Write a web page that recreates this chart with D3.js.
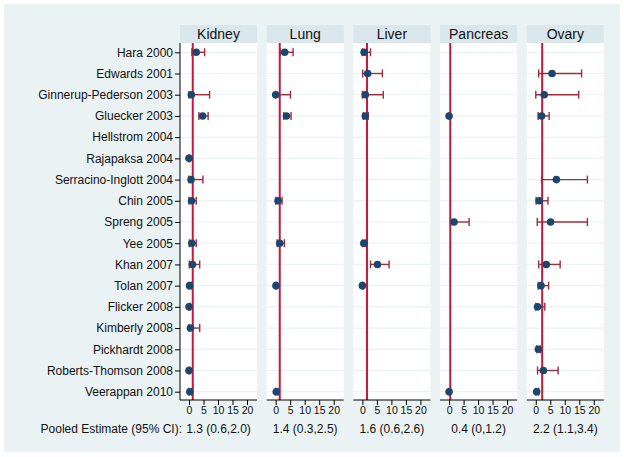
<!DOCTYPE html>
<html><head><meta charset="utf-8">
<script src="https://cdn.jsdelivr.net/npm/d3@7"></script>
<style>body{margin:0;background:#fff}svg{display:block;font-family:"Liberation Sans",Arial,sans-serif}</style>
</head><body><svg id="c" width="624" height="457"></svg>
<script>
const studies = ["Hara 2000","Edwards 2001","Ginnerup-Pederson 2003","Gluecker 2003","Hellstrom 2004","Rajapaksa 2004","Serracino-Inglott 2004","Chin 2005","Spreng 2005","Yee 2005","Khan 2007","Tolan 2007","Flicker 2008","Kimberly 2008","Pickhardt 2008","Roberts-Thomson 2008","Veerappan 2010"];
const organs = ["Kidney","Lung","Liver","Pancreas","Ovary"];
// [estimate, lower, upper] per study, null = not reported
const kidney = [[2.5,1.0,5.4],null,[0.8,0,7.1],[4.7,3.4,6.6],null,[0,0,0.2],[0.7,0,4.8],[0.9,0,2.5],null,[1.0,0.1,2.5],[1.2,0.1,3.7],[0.2,0,0.8],[0,0,0.4],[0.5,0,3.7],null,[0,0,0.3],[0.3,0,1.0]];
const lung = [[3.1,1.6,6.0],null,[0,0,5.1],[3.7,2.8,5.3],null,null,null,[0.8,0,2.2],null,[1.4,0.5,3.0],null,[0.1,0,0.3],null,null,null,null,[0.2,0,0.8]];
const liver = [[0.6,0,2.8],[1.8,0.1,6.9],[1.0,0,7.2],[1.0,0.3,2.0],null,null,null,null,null,[0.5,0,1.0],[5.2,2.8,9.2],[0,0,0.3],null,null,null,null,null];
const pancreas = [null,null,null,[0,0,0.2],null,null,null,null,[1.7,0.5,6.9],null,null,null,null,null,null,null,[0,0,0.2]];
const ovary = [null,[5.6,1.0,15.8],[2.9,0,14.8],[2.0,0.8,4.6],null,null,[7.1,2.0,17.8],[1.2,0.1,4.2],[5.1,0.5,17.8],null,[3.6,1.0,8.4],[1.8,0.8,4.4],[0.6,0,3.1],null,[0.9,0.3,1.6],[2.6,0.6,7.7],[0.3,0,1.0]];
const organData = [kidney, lung, liver, pancreas, ovary];
const pooled = [1.3, 1.4, 1.6, 0.4, 2.2];
const pooledLabels = ["1.3 (0.6,2.0)","1.4 (0.3,2.5)","1.6 (0.6,2.6)","0.4 (0,1.2)","2.2 (1.1,3.4)"];
const xTicks = [0,5,10,15,20];

const svg = d3.select("#c");
const bg = "#eaf2f3";
svg.append("rect").attr("x",4).attr("y",4).attr("width",616).attr("height",448).attr("fill",bg);

const plotTop = 43, plotBottom = 400;
const panelW = 77, firstLeft = 180, step = 86.7;
const y = d3.scalePoint().domain(studies).range([52.3, 391.7]);

organs.forEach((org, k) => {
  const left = firstLeft + k*step;
  const g = svg.append("g").attr("transform", `translate(${left},0)`);
  const x = d3.scaleLinear().domain([-3.1, 23.45]).range([0, panelW]);
  // header strip
  g.append("rect").attr("x",0).attr("y",25).attr("width",panelW).attr("height",18).attr("fill","#d9e6eb");
  g.append("text").attr("x",panelW/2).attr("y",39).attr("text-anchor","middle").attr("font-size",14).attr("fill","#111").text(org);
  // plot area
  g.append("rect").attr("x",0).attr("y",plotTop).attr("width",panelW).attr("height",plotBottom-plotTop).attr("fill","#fff");
  g.selectAll("line.grid").data(studies).join("line").attr("class","grid")
    .attr("x1",0).attr("x2",panelW).attr("y1",d=>y(d)).attr("y2",d=>y(d))
    .attr("stroke",bg).attr("stroke-width",1.2);
  // pooled line
  g.append("line").attr("x1",x(pooled[k])).attr("x2",x(pooled[k])).attr("y1",plotTop).attr("y2",plotBottom)
    .attr("stroke","#c8173a").attr("stroke-width",2);
  const rows = organData[k].map((v,i)=>({s:studies[i], v})).filter(d=>d.v);
  const bars = g.selectAll("g.bar").data(rows).join("g").attr("class","bar");
  bars.append("line").attr("x1",d=>x(d.v[1])).attr("x2",d=>x(d.v[2])).attr("y1",d=>y(d.s)).attr("y2",d=>y(d.s))
    .attr("stroke","#a02c3c").attr("stroke-width",1.4);
  bars.append("line").attr("x1",d=>x(d.v[1])).attr("x2",d=>x(d.v[1])).attr("y1",d=>y(d.s)-4).attr("y2",d=>y(d.s)+4)
    .attr("stroke","#a02c3c").attr("stroke-width",1.4);
  bars.append("line").attr("x1",d=>x(d.v[2])).attr("x2",d=>x(d.v[2])).attr("y1",d=>y(d.s)-4).attr("y2",d=>y(d.s)+4)
    .attr("stroke","#a02c3c").attr("stroke-width",1.4);
  bars.append("circle").attr("cx",d=>x(d.v[0])).attr("cy",d=>y(d.s)).attr("r",3.8).attr("fill","#1a476f");
  // x axis
  const ax = g.append("g").attr("transform",`translate(0,${plotBottom})`)
    .call(d3.axisBottom(x).tickValues(xTicks).tickSize(5).tickPadding(2).tickSizeOuter(0));
  ax.select(".domain").attr("stroke","#000").attr("d",`M0,0H${panelW}`);
  ax.selectAll(".tick line").attr("stroke","#000");
  ax.selectAll("text").attr("font-size",10.5).attr("fill","#111").attr("font-family","Liberation Sans, Arial, sans-serif");
  g.append("text").attr("x",panelW/2).attr("y",433).attr("text-anchor","middle").attr("font-size",12).attr("fill","#111").text(pooledLabels[k]);
});

// y axis
const yAx = svg.append("g").attr("transform",`translate(${firstLeft},0)`)
  .call(d3.axisLeft(y).tickSize(5).tickPadding(2).tickSizeOuter(0));
yAx.select(".domain").attr("stroke","#000").attr("d",`M0,${plotTop}V${plotBottom}`);
yAx.selectAll(".tick line").attr("stroke","#000");
yAx.selectAll("text").attr("font-size",12).attr("fill","#111").attr("font-family","Liberation Sans, Arial, sans-serif");

svg.append("text").attr("x",182).attr("y",433).attr("text-anchor","end").attr("font-size",12).attr("fill","#111").text("Pooled Estimate (95% CI):");
</script></body></html>
